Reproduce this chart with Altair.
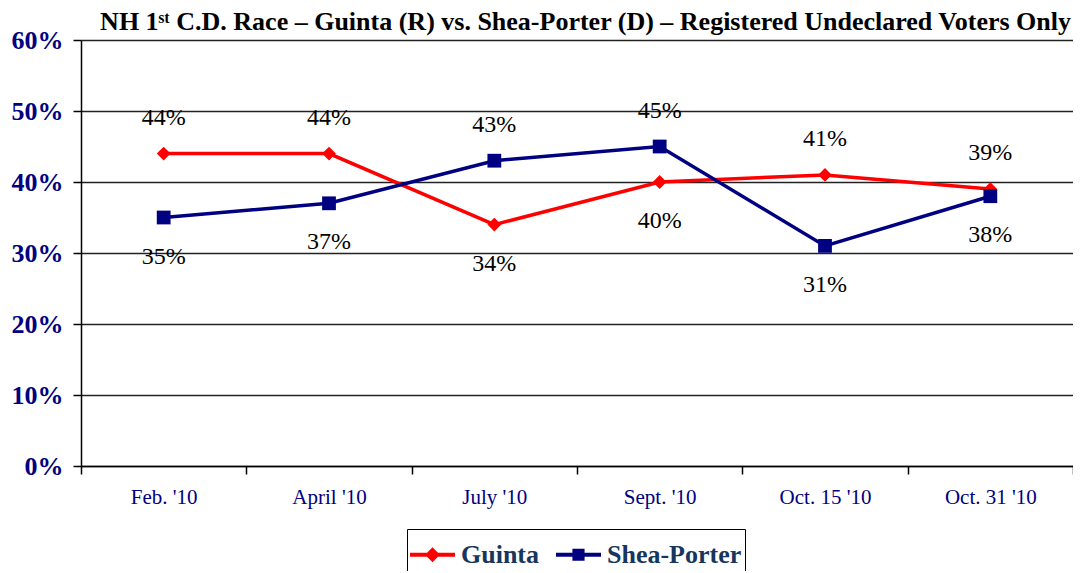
import altair as alt
import pandas as pd

periods = ["Feb. '10", "April '10", "July '10", "Sept. '10", "Oct. 15 '10", "Oct. 31 '10"]
guinta = [44, 44, 34, 40, 41, 39]
shea_porter = [35, 37, 43, 45, 31, 38]
series_names = ["Guinta", "Shea-Porter"]
series_colors = ["#FF0000", "#000080"]
y_ticks = [0, 10, 20, 30, 40, 50, 60]

rows = []
for i, p in enumerate(periods):
    g, s = guinta[i], shea_porter[i]
    rows.append({"period": p, "series": "Guinta", "value": g, "pos": "above" if g >= s else "below"})
    rows.append({"period": p, "series": "Shea-Porter", "value": s, "pos": "above" if s > g else "below"})
df = pd.DataFrame(rows)

FONT = "Liberation Serif"

x_enc = alt.X(
    "period:N",
    sort=periods,
    scale=alt.Scale(type="band", paddingInner=0, paddingOuter=0),
    axis=alt.Axis(
        title=None, labelAngle=0, tickBand="extent", grid=False,
        domainColor="black", domainWidth=1.5, tickColor="black", tickWidth=1.5,
        tickSize=8, labelFont=FONT, labelFontSize=21, labelColor="#000080",
        labelPadding=12,
    ),
)
y_enc = alt.Y(
    "value:Q",
    scale=alt.Scale(domain=[0, 60], nice=False),
    axis=alt.Axis(
        title=None, values=y_ticks, labelExpr="datum.value + '%'",
        grid=True, gridColor="#222222", gridWidth=1.5,
        domainColor="black", domainWidth=1.5, tickColor="black", tickWidth=1.5,
        tickSize=8, labelFont=FONT, labelFontSize=26, labelFontWeight="bold",
        labelColor="#000080", labelPadding=10,
    ),
)

color_scale = alt.Scale(domain=series_names, range=series_colors)

lines = alt.Chart(df).mark_line(strokeWidth=3.5).encode(
    x=x_enc, y=y_enc,
    color=alt.Color("series:N", scale=color_scale, legend=None),
)

points = alt.Chart(df).mark_point(filled=True, opacity=1).encode(
    x=x_enc, y=y_enc,
    color=alt.Color("series:N", scale=color_scale, legend=None),
    shape=alt.Shape("series:N", scale=alt.Scale(domain=series_names, range=["diamond", "square"]), legend=None),
    size=alt.value(190),
)

path_g = "M-1,-0.09L1,-0.09L1,0.09L-1,0.09Z M0,-0.33L0.33,0L0,0.33L-0.33,0Z"
path_s = "M-1,-0.09L1,-0.09L1,0.09L-1,0.09Z M-0.27,-0.27L0.27,-0.27L0.27,0.27L-0.27,0.27Z"

legend_def = alt.Legend(
    title=None, orient="none", legendX=326, legendY=489, direction="horizontal",
    strokeColor="black", padding=3, symbolSize=2025, symbolStrokeWidth=0,
    symbolOpacity=1, labelFont=FONT, labelFontSize=26, labelFontWeight="bold",
    labelColor="#17365D", columnPadding=16, labelOffset=6, cornerRadius=0,
)

legend_layer = alt.Chart(df).mark_point(filled=True, opacity=0).encode(
    x=x_enc, y=y_enc,
    color=alt.Color("series:N", scale=color_scale, legend=legend_def, sort=series_names),
    shape=alt.Shape("series:N", scale=alt.Scale(domain=series_names, range=[path_g, path_s]),
                    legend=legend_def, sort=series_names),
)

labels_above = alt.Chart(df).transform_filter(alt.datum.pos == "above").transform_calculate(
    lab="datum.value + '%'"
).mark_text(
    font=FONT, fontSize=24, color="black", dy=-36, baseline="middle"
).encode(x=x_enc, y=y_enc, text="lab:N")

labels_below = alt.Chart(df).transform_filter(alt.datum.pos == "below").transform_calculate(
    lab="datum.value + '%'"
).mark_text(
    font=FONT, fontSize=24, color="black", dy=39, baseline="middle"
).encode(x=x_enc, y=y_enc, text="lab:N")

chart = alt.layer(lines, points, labels_above, labels_below, legend_layer).resolve_scale(
    color="independent", shape="independent"
).properties(
    width=992, height=426,
    autosize=alt.AutoSizeParams(type="none"),
    padding={"left": 73, "top": 32, "right": 0, "bottom": 105},
    title=alt.TitleParams(
        text="NH 1ˢᵗ C.D. Race – Guinta (R) vs. Shea-Porter (D) – Registered Undeclared Voters Only",
        anchor="end", frame="group", font=FONT, fontSize=26, fontWeight="bold",
        color="black", baseline="alphabetic", offset=0, dy=29, dx=-2,
    ),
).configure_view(stroke=None)

chart.save("out.html", embed_options={"renderer": "svg", "actions": False})
